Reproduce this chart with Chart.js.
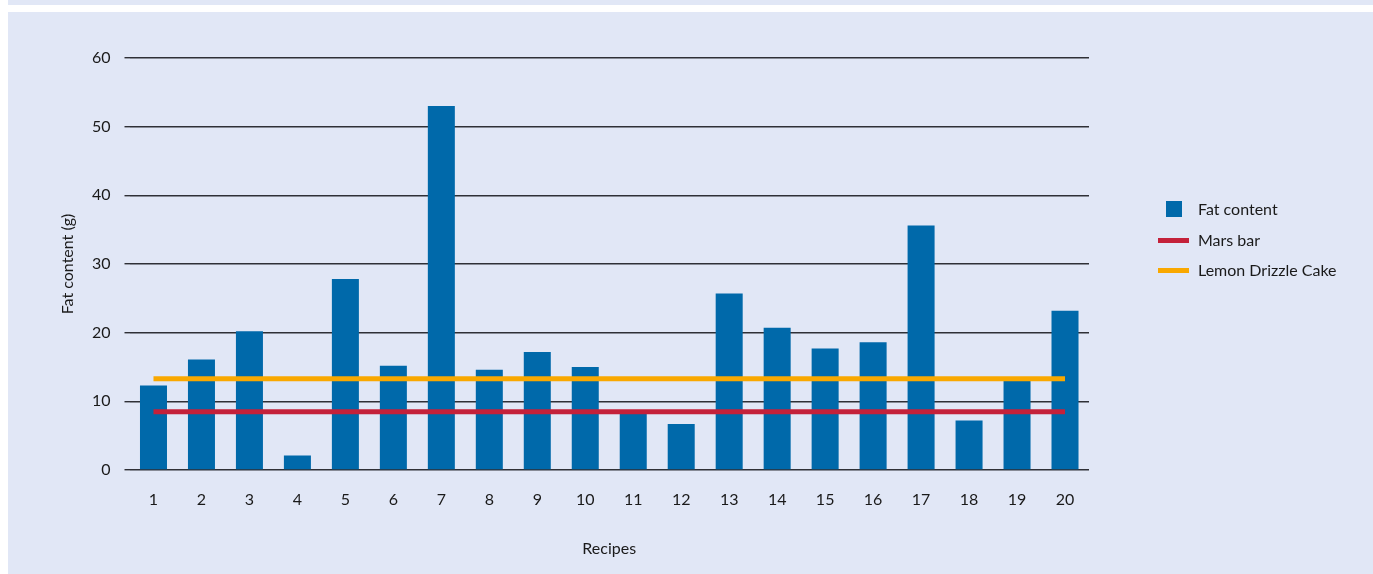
<!DOCTYPE html>
<html>
<head>
<meta charset="utf-8">
<script src="https://cdn.jsdelivr.net/npm/chart.js@4"></script>
<style>
  body { margin: 0; background: #ffffff; }
  #wrap { position: relative; width: 1373px; height: 574px; overflow: hidden; }
  #panel { position: absolute; left: 8px; top: 0; width: 1365px; height: 574px; background: #e1e7f6; }
  #stripe { position: absolute; left: 8px; top: 5px; width: 1365px; height: 7px; background: #ffffff; }
  #fatChart { position: absolute; left: 0; top: 0; }
  #legend { position: absolute; left: 1156px; top: 197px; font-family: Lato, sans-serif; font-size: 16px; color: #1a1a1a; }
  .item { position: relative; height: 30.5px; line-height: 24px; padding-left: 42px; }
  .item .mark { position: absolute; }
</style>
</head>
<body>
<div id="wrap">
  <div id="panel"></div>
  <div id="stripe"></div>
  <canvas id="fatChart" width="1373" height="574"></canvas>
  <div id="legend"></div>
</div>
<script>
// recipe numbers on the x axis
var recipes = ['1','2','3','4','5','6','7','8','9','10','11','12','13','14','15','16','17','18','19','20'];
// fat content per recipe (g)
var fatContent = [12.3, 16.1, 20.2, 2.1, 27.8, 15.2, 53.0, 14.6, 17.2, 15.0, 8.3, 6.7, 25.7, 20.7, 17.7, 18.6, 35.6, 7.2, 13.0, 23.2];
// reference products (g)
var marsBarFat = 8.5;
var lemonCakeFat = 13.3;
var yTicks = [0, 10, 20, 30, 40, 50, 60];

var fontFamily = 'Lato, sans-serif';
var textColor = '#1a1a1a';
var gridColor = '#2f3036';

document.addEventListener("DOMContentLoaded", function() {
    var ctx = document.getElementById('fatChart').getContext('2d');

    var chart = new Chart(ctx, {
        type: 'bar',
        data: {
            labels: recipes,
            datasets: [{
                label: 'Fat content',
                data: fatContent,
                backgroundColor: '#0069aa',
                barPercentage: 0.563,
                categoryPercentage: 1.0,
                order: 3
            }, {
                type: 'line',
                label: 'Mars bar',
                data: [{x: recipes[0], y: marsBarFat}, {x: recipes[recipes.length - 1], y: marsBarFat}],
                borderColor: '#c4213a',
                borderWidth: 5,
                pointRadius: 0,
                fill: false,
                order: 2
            }, {
                type: 'line',
                label: 'Lemon Drizzle Cake',
                data: [{x: recipes[0], y: lemonCakeFat}, {x: recipes[recipes.length - 1], y: lemonCakeFat}],
                borderColor: '#f9a800',
                borderWidth: 5,
                pointRadius: 0,
                fill: false,
                order: 1
            }]
        },
        options: {
            responsive: false,
            animation: false,
            events: [],
            layout: { padding: { left: 9.5, right: 284, top: 58, bottom: 0 } },
            plugins: {
                legend: { display: false },
                tooltip: { enabled: false }
            },
            scales: {
                x: {
                    grid: { display: false },
                    border: { display: false },
                    ticks: { color: textColor, font: { family: fontFamily, size: 16 }, padding: 12, maxRotation: 0 },
                    title: { display: true, text: 'Recipes', color: textColor, font: { family: fontFamily, size: 16 }, padding: { top: 0, bottom: 16 } },
                    afterFit: function(scale) { scale.height = 104; }
                },
                y: {
                    min: 0,
                    max: 60,
                    afterBuildTicks: function(scale) { scale.ticks = yTicks.map(function(v) { return { value: v }; }); },
                    grid: { color: gridColor, lineWidth: 1.4, tickLength: 5, tickColor: gridColor },
                    border: { display: false },
                    ticks: { color: textColor, font: { family: fontFamily, size: 16 }, padding: 14 },
                    title: { display: true, text: 'Fat content (g)', color: textColor, font: { family: fontFamily, size: 16 }, padding: { top: 49, bottom: 0 } },
                    afterFit: function(scale) { scale.width = 120; }
                }
            }
        }
    });

    // legend built from the chart's datasets
    var legend = document.getElementById('legend');
    chart.data.datasets.forEach(function(ds) {
        var item = document.createElement('div');
        item.className = 'item';
        var mark = document.createElement('span');
        mark.className = 'mark';
        if (ds.type === 'line') {
            mark.style.cssText = 'left:2px;top:10px;width:31px;height:5px;background:' + ds.borderColor;
        } else {
            mark.style.cssText = 'left:10px;top:4px;width:16px;height:16px;background:' + ds.backgroundColor;
        }
        item.appendChild(mark);
        item.appendChild(document.createTextNode(ds.label));
        legend.appendChild(item);
    });
});
</script>
</body>
</html>
